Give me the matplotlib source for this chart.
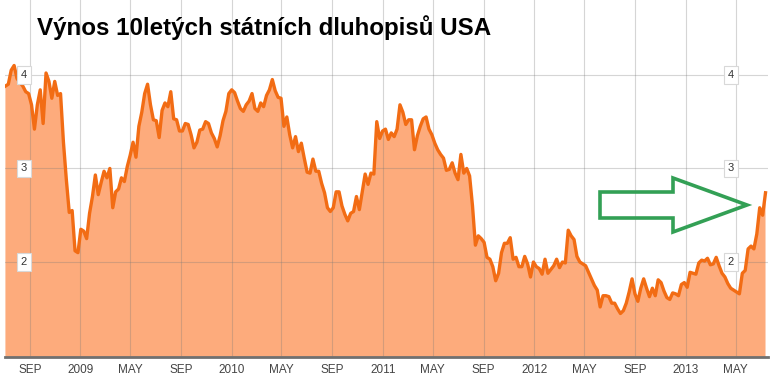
import numpy as np
import pandas as pd
import matplotlib
matplotlib.use('Agg')
import matplotlib.pyplot as plt
import matplotlib.transforms as mtransforms
from matplotlib.patches import Polygon

# týdenní výnosy 10letých US dluhopisů (%), od 4. 7. 2008
yields = [
    3.88, 3.90, 4.05, 4.10, 3.96, 3.92, 3.88, 3.82, 3.80, 3.68,
    3.42, 3.68, 3.84, 3.48, 4.02, 3.93, 3.75, 3.93, 3.78, 3.80,
    3.28, 2.88, 2.53, 2.55, 2.12, 2.10, 2.35, 2.33, 2.25, 2.52,
    2.70, 2.93, 2.72, 2.85, 2.97, 2.90, 3.00, 2.58, 2.75, 2.78,
    2.90, 2.86, 3.02, 3.14, 3.28, 3.12, 3.45, 3.60, 3.80, 3.90,
    3.68, 3.52, 3.51, 3.33, 3.62, 3.70, 3.66, 3.82, 3.53, 3.52,
    3.40, 3.40, 3.48, 3.47, 3.36, 3.22, 3.28, 3.41, 3.42, 3.50,
    3.48, 3.38, 3.32, 3.23, 3.35, 3.51, 3.61, 3.80, 3.84, 3.81,
    3.72, 3.64, 3.61, 3.68, 3.72, 3.80, 3.64, 3.61, 3.70, 3.66,
    3.78, 3.84, 3.95, 3.83, 3.76, 3.75, 3.45, 3.55, 3.36, 3.22,
    3.34, 3.18, 3.27, 3.11, 2.96, 2.95, 3.10, 2.97, 2.97, 2.84,
    2.74, 2.58, 2.54, 2.58, 2.75, 2.75, 2.60, 2.51, 2.44, 2.52,
    2.54, 2.70, 2.56, 2.75, 2.94, 2.83, 2.95, 2.94, 3.50, 3.32,
    3.40, 3.42, 3.31, 3.38, 3.34, 3.42, 3.68, 3.60, 3.47, 3.52,
    3.52, 3.20, 3.35, 3.45, 3.53, 3.55, 3.42, 3.36, 3.27, 3.20,
    3.15, 3.11, 2.98, 2.99, 3.06, 2.95, 2.88, 3.15, 2.95, 3.00,
    2.92, 2.60, 2.18, 2.28, 2.25, 2.21, 2.05, 2.03, 1.95, 1.80,
    1.88, 2.10, 2.20, 2.20, 2.26, 2.03, 2.05, 1.95, 1.95, 2.06,
    1.98, 1.84, 2.00, 1.95, 1.93, 1.87, 2.03, 1.88, 1.92, 1.96,
    2.03, 1.94, 2.00, 1.99, 2.34, 2.28, 2.24, 2.06, 2.00, 1.98,
    1.96, 1.89, 1.82, 1.75, 1.70, 1.52, 1.64, 1.64, 1.63, 1.56,
    1.56, 1.50, 1.45, 1.48, 1.56, 1.68, 1.82, 1.66, 1.58, 1.72,
    1.82, 1.72, 1.63, 1.72, 1.64, 1.81, 1.78, 1.69, 1.62, 1.60,
    1.67, 1.66, 1.64, 1.76, 1.78, 1.73, 1.89, 1.88, 1.87, 1.99,
    2.02, 2.01, 2.04, 1.97, 1.98, 2.05, 1.96, 1.88, 1.84, 1.77,
    1.72, 1.70, 1.68, 1.66, 1.88, 1.91, 2.14, 2.17, 2.14, 2.30,
    2.58, 2.50, 2.74,
]
weeks = pd.date_range('2008-07-04', periods=len(yields), freq='7D')

tick_dates = pd.date_range('2008-09-01', '2013-05-01', freq='4MS')
tick_labels = ['SEP', '2009', 'MAY', 'SEP', '2010', 'MAY', 'SEP', '2011',
               'MAY', 'SEP', '2012', 'MAY', 'SEP', '2013', 'MAY']
y_ticks = [2, 3, 4]
title = 'Výnos 10letých státních dluhopisů USA'

W, H = 772, 376
fig = plt.figure(figsize=(W / 100, H / 100), dpi=100)
ax = fig.add_axes([5 / W, 19 / H, 763 / W, 357 / H])

ax.fill_between(weeks, yields, 0, color='#fdab7c', lw=0, zorder=1)
ax.plot(weeks, yields, color='#f26c14', lw=2.4, zorder=3)

ax.set_xlim(weeks[0] - pd.Timedelta(days=1), weeks[-1] + pd.Timedelta(days=6))
ax.set_ylim(0.985, 4.80)

ax.set_xticks(tick_dates)
ax.set_xticklabels(tick_labels, fontsize=8.5, color='#444444',
                   family='Liberation Sans')
ax.set_yticks(y_ticks)
ax.tick_params(axis='both', length=0)
ax.tick_params(axis='x', pad=5)
ax.set_yticklabels([])

ax.grid(True, color='#777777', alpha=0.3, lw=0.8)
ax.set_axisbelow(False)
for s in ['top', 'left', 'right']:
    ax.spines[s].set_visible(False)
ax.spines['bottom'].set_color('#707070')
ax.spines['bottom'].set_linewidth(2)

# popisky osy y v rámečcích vlevo i vpravo
trans = mtransforms.blended_transform_factory(ax.transAxes, ax.transData)
for v in y_ticks:
    for xpos in [(24 - 5) / 763, (731 - 5) / 763]:
        ax.text(xpos, v, str(v), transform=trans, ha='center', va='center',
                fontsize=8, color='#333333', family='Liberation Sans',
                zorder=5,
                bbox=dict(boxstyle='square,pad=0.35', fc='white',
                          ec='#d8d8d8', lw=0.8))

fig.text(37 / W, 1 - 35 / H, title, fontsize=17.4, fontweight='bold',
         family='Liberation Sans', color='black', va='baseline', ha='left')

# zelená šipka
arrow_px = [(600, 192), (673, 192), (673, 178), (747, 205),
            (673, 232), (673, 218), (600, 218)]
arrow = Polygon([(x / W, 1 - y / H) for x, y in arrow_px], closed=True,
                fill=False, ec='#33a055', lw=2.6, transform=fig.transFigure,
                joinstyle='miter')
fig.add_artist(arrow)

fig.savefig('out.png', dpi=100)
